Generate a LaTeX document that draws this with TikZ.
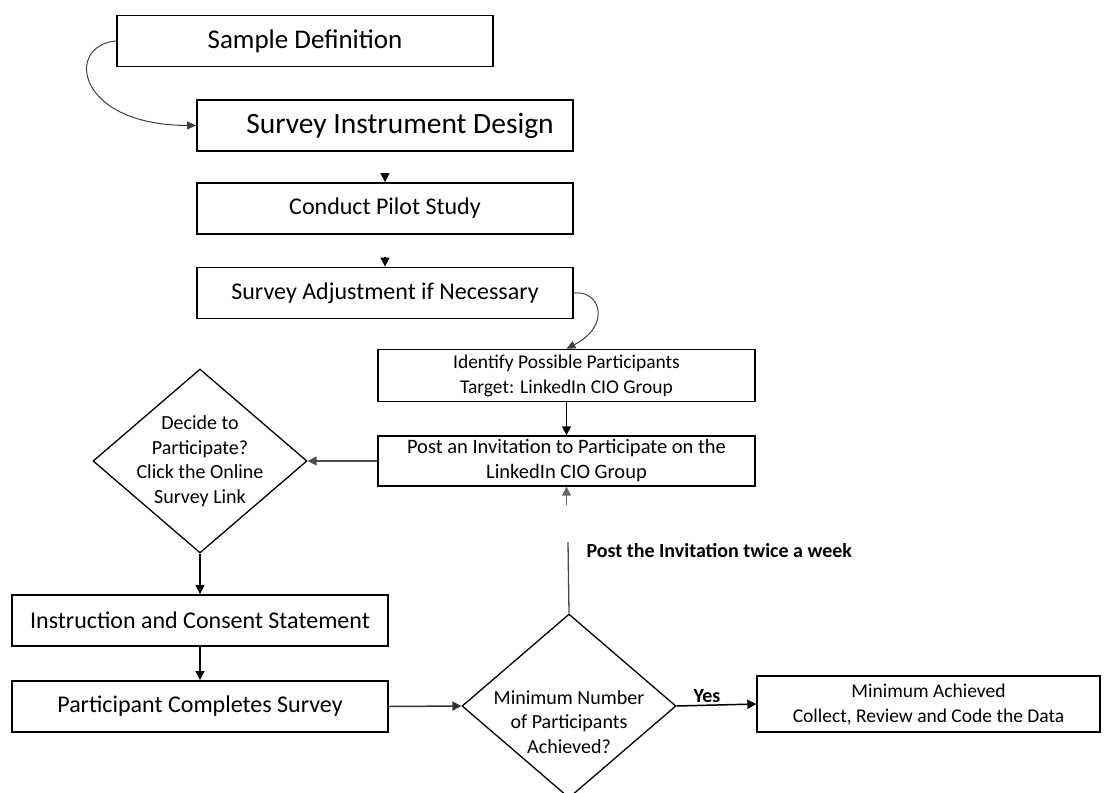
\documentclass[tikz,border=0pt]{standalone}
\usepackage{fontspec}
\setmainfont{Carlito}
\usetikzlibrary{arrows.meta,shapes.geometric}

\begin{document}
\begin{tikzpicture}[x=1pt,y=-1pt,
  box/.style={draw, line width=1.8pt, minimum width=376pt, minimum height=51pt,
    inner sep=0pt, font=\fontsize{24}{28}\selectfont},
  tbox/.style={draw, line width=1.4pt, minimum width=377pt, minimum height=52pt,
    inner sep=0pt, align=center, font=\fontsize{19.5}{25}\selectfont},
  dia/.style={draw, diamond, line width=1.3pt, minimum width=214pt,
    minimum height=184pt, inner sep=0pt},
  dtext/.style={align=center, font=\fontsize{20}{24.5}\selectfont},
  arr/.style={line width=1.5pt, -{Triangle[length=9pt,width=9pt]}},
  curved/.style={line width=1pt, draw=black!75, -{Triangle[length=9pt,width=8pt]}},
  note/.style={font=\bfseries\fontsize{20}{24}\selectfont}
]
\useasboundingbox (0,0) rectangle (1115,792);

% process boxes, top to bottom
\node[box, font=\fontsize{27}{30}\selectfont] (sample) at (305,41) {Sample Definition};
\node[box, font=\fontsize{29.5}{32}\selectfont] (design) at (385,125.5) {\hspace{30pt}Survey Instrument Design};
\node[box] (pilot) at (385,208.5) {Conduct Pilot Study};
\node[box] (adjust) at (385,293) {Survey Adjustment if Necessary};
\node[tbox] (identify) at (566.5,375.5) {Identify Possible Participants\\Target: LinkedIn CIO Group};
\node[tbox, minimum height=50pt, font=\fontsize{20.5}{25}\selectfont] (post) at (566.5,461) {Post an Invitation to Participate on the\\LinkedIn CIO Group};

% decision: take part
\node[dia] (decide) at (200,461) {};
\node[dtext] (decidetext) at (decide.center) {Decide to\\Participate?\\Click the Online\\Survey Link};

\node[box] (consent) at (200,620.5) {Instruction and Consent Statement};
\node[box] (completes) at (200,706.5) {Participant Completes Survey};

% decision: enough responses
\node[dia] (enough) at (569,706) {};
\node[dtext, yshift=-16pt] (enoughtext) at (enough.center) {Minimum Number\\of Participants\\Achieved?};

\node[tbox, minimum width=343pt, minimum height=56pt] (achieved) at (928.5,704) {Minimum Achieved\\Collect, Review and Code the Data};

% connectors
\draw[curved] (sample.west) .. controls (65,45) and (75,125) .. (design.west);
\draw[arr, shorten <=22pt] (design.south) -- (pilot.north);
\draw[arr, shorten <=22pt] (pilot.south) -- (adjust.north);
\draw[curved] (adjust.east) .. controls (600,290) and (612,325) .. (identify.north);
\draw[arr] (identify.south) -- (post.north);
\draw[arr, draw=black!70] (post.west) -- (decide.east);
\draw[arr] (decide.south) -- (consent.north);
\draw[arr] (consent.south) -- (completes.north);
\draw[arr, draw=black!80] (completes.east) -- (enough.west);

% loop back: repost the invitation
\coordinate (stubtop) at (566.5,505);
\coordinate (stubbot) at (568,542);
\draw[arr, draw=black!60] (stubtop) -- (post.south);
\draw[line width=1.3pt, draw=black!70] (enough.north) -- (stubbot);
\node[note, anchor=west] (twice) at (583,551) {Post the Invitation twice a week};

\draw[arr] (enough.east) -- node[note, above, pos=0.38, inner sep=2pt] (yes) {Yes} (achieved.west);
\end{tikzpicture}
\end{document}
